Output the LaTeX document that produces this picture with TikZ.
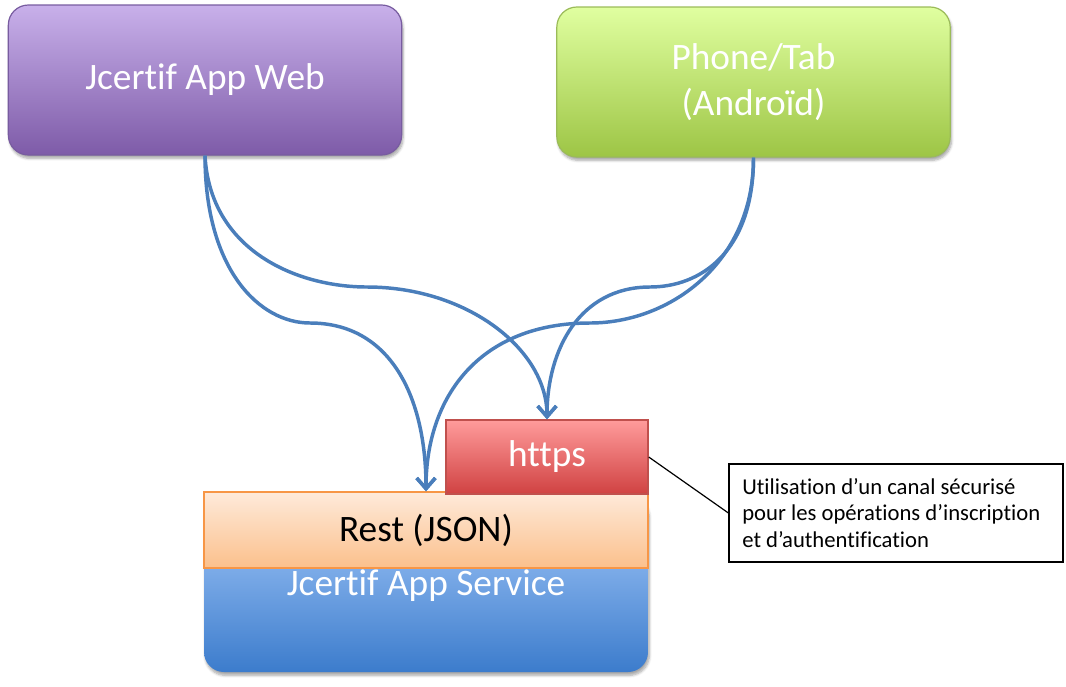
\documentclass[tikz,border=0pt]{standalone}
\usepackage{fontspec}
\setmainfont{Carlito}[Ligatures=NoCommon]
\usetikzlibrary{arrows.meta,shadows.blur,positioning}
\definecolor{flowblue}{RGB}{74,126,187}
\definecolor{webtop}{RGB}{200,176,234}
\definecolor{webbot}{RGB}{126,91,168}
\definecolor{webline}{RGB}{120,92,160}
\definecolor{phonetop}{RGB}{224,255,160}
\definecolor{phonebot}{RGB}{157,197,69}
\definecolor{phoneline}{RGB}{155,187,89}
\definecolor{svctop}{RGB}{170,205,252}
\definecolor{svcbot}{RGB}{60,124,204}
\definecolor{resttop}{RGB}{254,234,218}
\definecolor{restbot}{RGB}{251,192,140}
\definecolor{restline}{RGB}{247,150,70}
\definecolor{httpstop}{RGB}{255,155,155}
\definecolor{httpsbot}{RGB}{208,66,66}
\definecolor{httpsline}{RGB}{192,80,77}
\tikzset{
	bigtext/.style={font=\fontsize{28}{34}\selectfont},
	appbox/.style={rounded corners=15pt, draw, line width=0.9pt, text=white, bigtext, align=center,
		minimum width=295pt, minimum height=112.5pt,
		blur shadow={shadow xshift=1pt, shadow yshift=-2.5pt, shadow blur steps=6, shadow opacity=35}},
	layerbox/.style={draw, line width=1.1pt, bigtext, align=center, inner sep=0pt},
	notebox/.style={draw, line width=0.9pt, fill=white, align=flush left, font=\fontsize{17}{20}\selectfont,
		inner xsep=10pt, text width=230.5pt, minimum height=73.5pt},
	flow/.style={-{Straight Barb[length=8pt,width=14pt]}, flowblue, line width=2.6pt}
}
\begin{document}
\begin{tikzpicture}[x=0.75pt,y=-0.75pt]
	\useasboundingbox (0,0) rectangle (1066,686);
	%%% clients
	\node[appbox, top color=webtop, bottom color=webbot, draw=webline] (web) at (205,80) {Jcertif App Web};
	\node[appbox, top color=phonetop, bottom color=phonebot, draw=phoneline] (phone) at (753.5,82) {Phone/Tab\\(Androïd)};
	%%% server side
	\node[rounded corners=15pt, top color=svctop, bottom color=svcbot, minimum width=333pt, minimum height=133.5pt,
		blur shadow={shadow xshift=1pt, shadow yshift=-2.5pt, shadow blur steps=6, shadow opacity=35}] (svc) at (426,583) {};
	\node[text=white, bigtext] (svctxt) at (426,586) {Jcertif App Service};
	\node[layerbox, top color=resttop, bottom color=restbot, draw=restline, minimum width=333pt, minimum height=57pt] (rest) at (426,530) {Rest (JSON)};
	\node[layerbox, top color=httpstop, bottom color=httpsbot, draw=httpsline, text=white, minimum width=151.5pt, minimum height=55.5pt] (https) at (547,457) {https};
	%%% callout
	\node[notebox] (note) at (896,513) {Utilisation d’un canal sécurisé\\pour les opérations d’inscription\\et d’authentification};
	\draw[line width=0.9pt] (https.east) -- (note.west);
	%%% flows
	\coordinate (bendA) at (310,323);
	\coordinate (bendB) at (367,287);
	\coordinate (bendC) at (590,323);
	\coordinate (bendD) at (650,287);
	\draw[flow] (web.south) .. controls +(0,115) and +(-50,0) .. (bendA) .. controls +(80,0) and +(0,-95) .. (rest.north);
	\draw[flow] (web.south) .. controls +(5,95) and +(-70,0) .. (bendB) .. controls +(100,0) and +(0,-70) .. (https.north);
	\draw[flow] (phone.south) .. controls +(0,105) and +(80,0) .. (bendC) .. controls +(-110,0) and +(0,-95) .. (rest.north);
	\draw[flow] (phone.south) .. controls +(0,95) and +(50,0) .. (bendD) .. controls +(-70,0) and +(0,-70) .. (https.north);
\end{tikzpicture}
\end{document}
